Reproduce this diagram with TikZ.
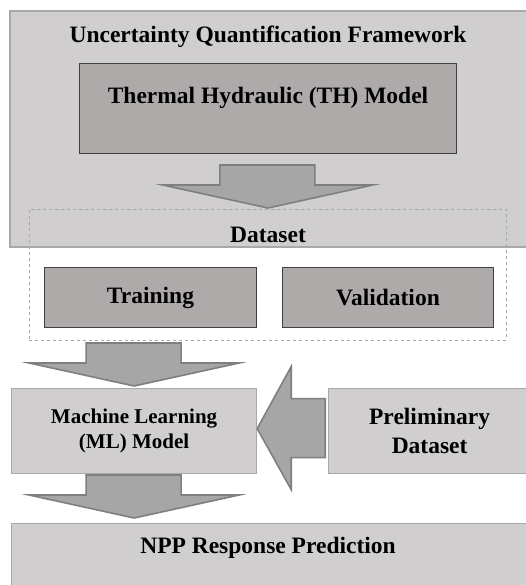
\documentclass[tikz,border=0pt]{standalone}
\usepackage{fontspec}
\setmainfont{Liberation Serif}
\usetikzlibrary{positioning}

\definecolor{paleBox}{HTML}{D0CECE}
\definecolor{paleEdge}{HTML}{A9A9A9}
\definecolor{darkBox}{HTML}{AEAAAA}
\definecolor{arrowFill}{HTML}{A6A6A6}
\definecolor{arrowEdge}{HTML}{7F7F7F}

\begin{document}
\begin{tikzpicture}[x=1pt,y=-1pt,
  every node/.style={font=\fontsize{23.5}{29}\selectfont\bfseries,align=center,inner sep=0pt},
  panel/.style={draw=paleEdge,fill=paleBox,line width=1.2pt},
  block/.style={draw=black!75,fill=darkBox,line width=1pt},
  fatarrow/.style={draw=arrowEdge,fill=arrowFill,line width=1.6pt,line join=miter},
  downarrow/.pic={\draw[fatarrow] (0,0)--(-105,-23)--(-48,-23)--(-48,-43)--(47,-43)--(47,-23)--(105,-23)--cycle;}]
\useasboundingbox (0,0) rectangle (525,585);
\fill[white] (0,0) rectangle (525,585);

% framework around the TH model
\draw[panel] (10,11) rectangle (530,247);
\node (uq) at (268,37) {Uncertainty Quantification Framework};
\draw[block] (79,64) rectangle (456,154);
\node (th) at (268,98) {Thermal Hydraulic (TH) Model};

% dataset and its split
\node[draw=gray!70,dashed,line width=0.6pt,minimum width=477pt,minimum height=131pt,anchor=north west] (data) at (29,209) {};
\node (dataname) at (268,235) {Dataset};
\node[block,minimum width=212pt,minimum height=60pt,anchor=north west] (train) at (44,267) {Training};
\node[block,minimum width=211pt,minimum height=60pt,anchor=north west] (valid) at (282,267) {Validation};

% model and its inputs
\node[panel,minimum width=245pt,minimum height=85pt,anchor=north west,font=\fontsize{21}{25}\selectfont\bfseries] (ml) at (11,388) {Machine Learning\\(ML) Model};
\node[panel,minimum width=202pt,minimum height=85pt,anchor=north west] (prelim) at (328,388) {Preliminary\\Dataset};
\node[panel,minimum width=519pt,minimum height=70pt,anchor=north west] (npp) at (11,523) {};
\node (npptext) at (268,548) {NPP Response Prediction};

% block arrows
\pic at ([yshift=1pt]data.north) {downarrow};
\pic at ([yshift=2pt]ml.north) {downarrow};
\pic at ([yshift=5pt]ml.south |- npp.north) {downarrow};
\draw[fatarrow] ([yshift=2.5pt]ml.east)--++(34,-62)--++(0,32)--++(34,0)--++(0,59)--++(-34,0)--++(0,32)--cycle;
\end{tikzpicture}
\end{document}
